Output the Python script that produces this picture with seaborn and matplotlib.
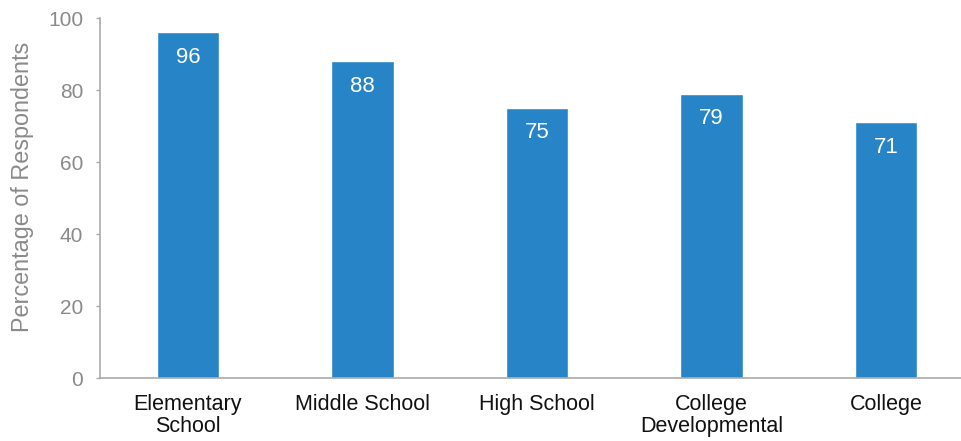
import matplotlib
matplotlib.use("Agg")
import matplotlib.pyplot as plt
import seaborn as sns
import pandas as pd

categories = ["Elementary\nSchool", "Middle School", "High School", "College\nDevelopmental", "College"]
values = [96, 88, 75, 79, 71]
yticks = [0, 20, 40, 60, 80, 100]

sns.set_theme(style="white")
plt.rcParams['font.family'] = ['Liberation Sans', 'DejaVu Sans']

df = pd.DataFrame({"cat": categories, "val": values})

fig = plt.figure(figsize=(9.62, 4.41), dpi=100)
ax = fig.add_axes([100/962, 63/441, 862/962, 360/441])
sns.barplot(data=df, x="cat", y="val", color="#2784c7", saturation=1, width=0.359, ax=ax)

ax.set_xlim(-0.504, 4.435)
ax.set_ylim(0, 100)
ax.set_yticks(yticks)
ax.set_yticklabels([str(t) for t in yticks], color="#8a8a8a", fontsize=15)
ax.tick_params(axis="y", direction="out", length=3, width=1, color="#aaaaaa", pad=9, left=True)
ax.tick_params(axis="x", length=0, pad=11.5, labelsize=15.5, labelcolor="#111111")
for lab in ax.get_xticklabels():
    lab.set_linespacing(1.05)
ax.set_xlabel("")
ax.set_ylabel("Percentage of Respondents", color="#8a8a8a", fontsize=16.8)
ax.yaxis.set_label_coords(-0.0766, 0.53)

for s in ["top", "right"]:
    ax.spines[s].set_visible(False)
for s in ["left", "bottom"]:
    ax.spines[s].set_color("#aaaaaa")
    ax.spines[s].set_linewidth(1.2)

for i, v in enumerate(values):
    ax.annotate(str(v), (i, v), xytext=(0, -18), textcoords="offset points",
                ha="center", va="center", color="white", fontsize=16)

fig.savefig("out.png", dpi=100)
